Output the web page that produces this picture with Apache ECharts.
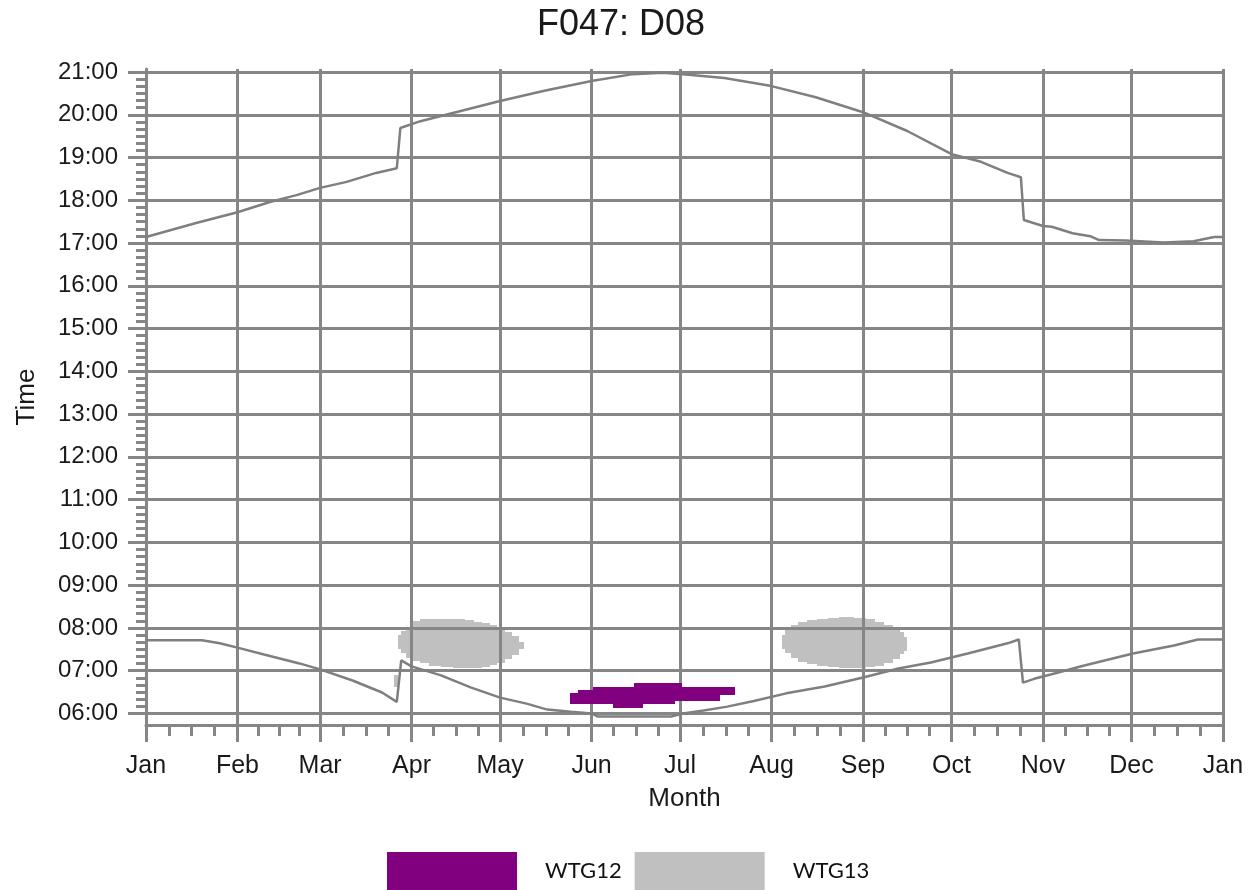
<!DOCTYPE html>
<html>
<head>
<meta charset="utf-8">
<script src="https://cdn.jsdelivr.net/npm/echarts@6/dist/echarts.min.js"></script>
<style>html,body{margin:0;padding:0;background:#fff}#c{width:1256px;height:890px}</style>
</head>
<body>
<div id="c"></div>
<script>
// ---- axes ----
const monthLabels = ['Jan','Feb','Mar','Apr','May','Jun','Jul','Aug','Sep','Oct','Nov','Dec','Jan'];
const monthStartDays = [0,31,59,90,120,151,181,212,243,273,304,334,365];
const hourTicks = [6,7,8,9,10,11,12,13,14,15,16,17,18,19,20,21];

// ---- sunrise / sunset (day of year, hours) ----
const sunriseDay  = [0,19,25,31,40,52,59,70,80,85,86.5,90,100,110,120,129,136,144,151,153,178,182,189,197,206,217,230,243,255,266,278.5,292,295.8,297.2,301,306.6,318,334.5,348.4,356.5,365];
const sunriseTime = [7.71,7.71,7.64,7.54,7.38,7.17,7.03,6.77,6.49,6.27,7.24,7.10,6.89,6.61,6.37,6.23,6.09,6.04,6.00,5.93,5.93,6.00,6.07,6.16,6.29,6.47,6.63,6.84,7.05,7.19,7.40,7.64,7.73,6.72,6.81,6.91,7.12,7.40,7.59,7.73,7.73];
const sunsetDay   = [0,17,31,42,51,59,68,78,85,86.2,93,105,120,135,151,165,175,182,196,212,227,243,258,273,283,292,296.5,297.5,304,307,314,320,323,332,345,355,362,365];
const sunsetTime  = [17.14,17.47,17.72,17.96,18.12,18.29,18.43,18.64,18.75,19.69,19.85,20.06,20.32,20.56,20.79,20.95,20.98,20.95,20.86,20.67,20.41,20.06,19.62,19.08,18.90,18.64,18.54,17.54,17.40,17.38,17.23,17.16,17.07,17.06,17.01,17.04,17.14,17.14];

// ---- shadow periods: WTG12 ----
const wtg12Start = [143.8,146.3,151.6,158.1,165.5,168.6,179.4,181.8,194.7];
const wtg12End   = [146.3,151.6,158.1,165.5,168.6,179.4,181.8,194.7,199.5];
const wtg12From  = [6.23,6.23,6.23,6.13,6.13,6.23,6.29,6.29,6.42];
const wtg12To    = [6.48,6.56,6.63,6.63,6.72,6.72,6.72,6.63,6.63];

// ---- shadow periods: WTG13 ----
const wtg13Start = [84.2,85.5,86.5,88,90.5,93,96,100,104,108,111,114,116.5,119,121.5,124,126.5,215.4,216.5,218.5,221,224,227.5,231,235,240,244,247,250,253,255.5,257];
const wtg13End   = [85.5,86.5,88,90.5,93,96,100,104,108,111,114,116.5,119,121.5,124,126.5,128,216.5,218.5,221,224,227.5,231,235,240,244,247,250,253,255.5,257,258];
const wtg13From  = [6.62,7.51,7.41,7.30,7.22,7.17,7.12,7.08,7.07,7.07,7.07,7.09,7.13,7.19,7.28,7.37,7.50,7.50,7.41,7.29,7.21,7.15,7.10,7.08,7.07,7.07,7.08,7.12,7.19,7.28,7.38,7.45];
const wtg13To    = [6.89,7.83,7.93,8.02,8.17,8.20,8.21,8.21,8.21,8.19,8.15,8.11,8.06,7.98,7.90,7.81,7.68,7.84,7.96,8.08,8.15,8.19,8.22,8.24,8.25,8.24,8.21,8.15,8.07,8.00,7.90,7.78];

const GRID = '#868686';
const FONT = "'Liberation Sans', Arial, sans-serif";
const TXT = '#1a1a1a';

// minor tick positions (axis decoration only)
const minorX = [];
for (let i = 0; i < monthStartDays.length - 1; i++) {
  const a = monthStartDays[i], b = monthStartDays[i + 1];
  for (let k = 1; k < 4; k++) minorX.push(a + (b - a) * k / 4);
}
const minorY = [];
for (let h = 6; h < 21; h++) for (let m = 1; m < 6; m++) minorY.push(h + m / 6);

function rectSeries(name, color, starts, ends, froms, tos, z) {
  return {
    name: name, type: 'custom', z: z, silent: true,
    itemStyle: { color: color },
    encode: { x: [0, 1], y: [2, 3] },
    data: starts.map((s, i) => [s, ends[i], froms[i], tos[i]]),
    renderItem: function (params, api) {
      const a = api.coord([api.value(0), api.value(3)]);
      const b = api.coord([api.value(1), api.value(2)]);
      const x = Math.round(a[0]), y = Math.round(a[1]);
      return {
        type: 'rect',
        shape: { x: x, y: y, width: Math.round(b[0]) - x, height: Math.round(b[1]) - y },
        style: { fill: color }
      };
    }
  };
}

const chart = echarts.init(document.getElementById('c'), null, { renderer: 'canvas' });
const YMIN = 5.73, YMAX = 21.07;
chart.setOption({
  animation: false,
  backgroundColor: '#fff',
  title: {
    text: 'F047: D08', left: 537, top: 7, padding: 0,
    textStyle: { fontFamily: FONT, fontSize: 36, fontWeight: 'normal', color: TXT }
  },
  legend: {
    left: 387, top: 852, padding: 0, itemWidth: 130, itemHeight: 38, itemGap: 13,
    selectedMode: false, icon: 'rect',
    data: ['WTG12', 'WTG13'],
    textStyle: { fontFamily: "Lato, 'Open Sans', sans-serif", fontSize: 22, color: '#111', padding: [0, 0, 0, 23] }
  },
  grid: { left: 146, right: 33, top: 69, bottom: 165, outerBoundsMode: 'none' },
  xAxis: [{
    type: 'value', min: 0, max: 365, position: 'bottom',
    axisLine: { show: true, onZero: false, lineStyle: { color: GRID, width: 3 } },
    axisTick: { show: true, customValues: monthStartDays, length: 17, lineStyle: { color: GRID, width: 3 } },
    axisLabel: {
      customValues: monthStartDays, margin: 29, fontSize: 25, color: TXT, fontFamily: FONT,
      formatter: v => monthLabels[monthStartDays.indexOf(v)]
    },
    splitLine: { show: true, lineStyle: { color: GRID, width: 3 } },
    name: 'Month', nameLocation: 'middle', nameGap: 61,
    nameTextStyle: { fontSize: 26, color: TXT, fontFamily: FONT }
  }, {
    type: 'value', min: 0, max: 365, position: 'bottom',
    axisLine: { show: false },
    axisTick: { show: true, customValues: minorX, length: 11, lineStyle: { color: GRID, width: 3 } },
    axisLabel: { show: false },
    splitLine: { show: false }
  }],
  yAxis: [{
    type: 'value', min: YMIN, max: YMAX, position: 'left',
    axisLine: { show: true, onZero: false, lineStyle: { color: GRID, width: 3 } },
    axisTick: { show: true, customValues: hourTicks, length: 18, lineStyle: { color: GRID, width: 3 } },
    axisLabel: {
      customValues: hourTicks, margin: 28, fontSize: 24, color: TXT, fontFamily: FONT,
      formatter: v => (v < 10 ? '0' : '') + v + ':00'
    },
    splitLine: { show: true, lineStyle: { color: GRID, width: 3 } },
    name: 'Time', nameLocation: 'middle', nameGap: 106, nameRotate: 90,
    nameTextStyle: { fontSize: 26, color: TXT, fontFamily: FONT }
  }, {
    type: 'value', min: YMIN, max: YMAX, position: 'left',
    axisLine: { show: false },
    axisTick: { show: true, customValues: minorY, length: 10, lineStyle: { color: GRID, width: 3 } },
    axisLabel: { show: false },
    splitLine: { show: false }
  }],
  series: [
    rectSeries('WTG13', '#C0C0C0', wtg13Start, wtg13End, wtg13From, wtg13To, -1),
    rectSeries('WTG12', '#800080', wtg12Start, wtg12End, wtg12From, wtg12To, 4),
    {
      name: 'sunrise', type: 'line', showSymbol: false, silent: true, z: 3,
      data: sunriseDay.map((d, i) => [d, sunriseTime[i]]),
      lineStyle: { color: '#7f7f7f', width: 2.5 }
    },
    {
      name: 'sunset', type: 'line', showSymbol: false, silent: true, z: 3,
      data: sunsetDay.map((d, i) => [d, sunsetTime[i]]),
      lineStyle: { color: '#7f7f7f', width: 2.5 }
    }
  ]
});
</script>
</body>
</html>
